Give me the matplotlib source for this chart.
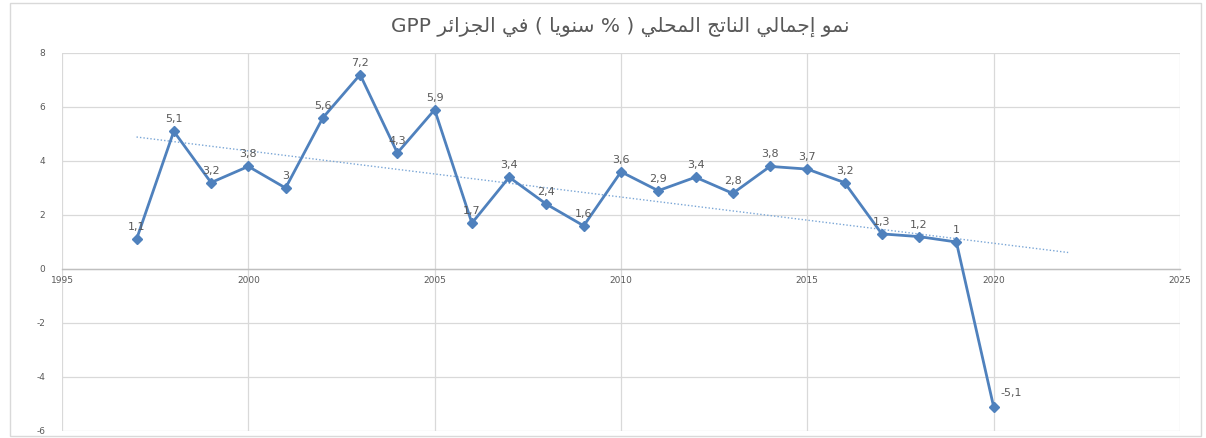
#!/usr/bin/env python3
# -*- coding: utf-8 -*-
"""Algeria GDP growth (% annual), Excel-style line chart with linear trend."""
import numpy as np
import matplotlib

matplotlib.use("Agg")
import matplotlib.pyplot as plt
from matplotlib.patches import Rectangle

years = list(range(1997, 2021))
growth = [1.1, 5.1, 3.2, 3.8, 3.0, 5.6, 7.2, 4.3, 5.9, 1.7, 3.4, 2.4,
          1.6, 3.6, 2.9, 3.4, 2.8, 3.8, 3.7, 3.2, 1.3, 1.2, 1.0, -5.1]
title_text = "نمو إجمالي الناتج المحلي ( % سنويا ) في الجزائر GPP"
x_ticks = [1995, 2000, 2005, 2010, 2015, 2020, 2025]
y_ticks = [-6, -4, -2, 0, 2, 4, 6, 8]

# matplotlib has no Arabic shaping, so pick presentation forms by hand
# (isolated, final, initial, medial)
FORMS = {
    "ا": (0xFE8D, 0xFE8E, None, None),
    "إ": (0xFE87, 0xFE88, None, None),
    "ت": (0xFE95, 0xFE96, 0xFE97, 0xFE98),
    "ج": (0xFE9D, 0xFE9E, 0xFE9F, 0xFEA0),
    "ح": (0xFEA1, 0xFEA2, 0xFEA3, 0xFEA4),
    "ر": (0xFEAD, 0xFEAE, None, None),
    "ز": (0xFEAF, 0xFEB0, None, None),
    "س": (0xFEB1, 0xFEB2, 0xFEB3, 0xFEB4),
    "ف": (0xFED1, 0xFED2, 0xFED3, 0xFED4),
    "ل": (0xFEDD, 0xFEDE, 0xFEDF, 0xFEE0),
    "م": (0xFEE1, 0xFEE2, 0xFEE3, 0xFEE4),
    "ن": (0xFEE5, 0xFEE6, 0xFEE7, 0xFEE8),
    "و": (0xFEED, 0xFEEE, None, None),
    "ي": (0xFEF1, 0xFEF2, 0xFEF3, 0xFEF4),
    "ئ": (0xFE89, 0xFE8A, 0xFE8B, 0xFE8C),
}
MIRROR = {"(": ")", ")": "("}


def shape_word(word):
    out = []
    for i, ch in enumerate(word):
        if ch not in FORMS:
            out.append(ch)
            continue
        prev = word[i - 1] if i > 0 else None
        nxt = word[i + 1] if i + 1 < len(word) else None
        joins_prev = prev in FORMS and FORMS[prev][2] is not None
        joins_next = FORMS[ch][2] is not None and nxt in FORMS
        iso, fin, ini, med = FORMS[ch]
        if joins_prev and joins_next:
            cp = med
        elif joins_prev:
            cp = fin
        elif joins_next:
            cp = ini
        else:
            cp = iso
        out.append(chr(cp))
    return "".join(reversed(out))


def rtl(text):
    tokens = []
    for tok in reversed(text.split(" ")):
        if any(c in FORMS for c in tok):
            tokens.append(shape_word(tok))
        else:
            tokens.append(MIRROR.get(tok, tok))
    return " ".join(tokens)


def fmt(v):
    s = f"{v:g}"
    return s.replace(".", ",")


plt.rcParams["axes.unicode_minus"] = False

line_col = "#4f81bd"
trend_col = "#7aa6d6"
text_col = "#595959"
grid_col = "#d9d9d9"

fig = plt.figure(figsize=(12.06, 4.38), dpi=100)
fig.patches.append(Rectangle((0.008, 0.004), 0.988, 0.99, transform=fig.transFigure,
                             fill=False, edgecolor="#d9d9d9", linewidth=1))
ax = fig.add_axes([0.0514, 0.016, 0.9270, 0.863])

ax.plot(years, growth, color=line_col, linewidth=2.0, marker="D",
        markersize=5, markerfacecolor=line_col, markeredgecolor=line_col, zorder=3)

# linear trend, extended two periods forward like Excel
coef = np.polyfit(years, growth, 1)
tx = np.array([years[0], years[-1] + 2])
ax.plot(tx, np.polyval(coef, tx), color=trend_col, linewidth=1.0,
        linestyle=(0, (1, 1.5)), zorder=2)

for x, y in zip(years, growth):
    if y < 0:
        ax.annotate(fmt(y), (x, y), xytext=(5, 6), textcoords="offset points",
                    ha="left", va="bottom", fontsize=8, color=text_col)
    else:
        ax.annotate(fmt(y), (x, y), xytext=(0, 5), textcoords="offset points",
                    ha="center", va="bottom", fontsize=8, color=text_col)

ax.set_xlim(1995, 2025)
ax.set_ylim(-6, 8)
ax.set_xticks(x_ticks)
ax.set_yticks(y_ticks)
ax.tick_params(axis="both", length=0, labelsize=6.5, labelcolor=text_col)
ax.tick_params(axis="x", pad=5)
ax.tick_params(axis="y", pad=12)
ax.grid(True, color=grid_col, linewidth=0.9)
ax.set_axisbelow(True)
for side in ("top", "right", "left"):
    ax.spines[side].set_visible(False)
ax.spines["bottom"].set_position(("data", 0))
ax.spines["bottom"].set_color("#bfbfbf")
ax.spines["bottom"].set_linewidth(1.0)

fig.text(0.514, 0.938, rtl(title_text), ha="center", va="center",
         fontsize=14.5, color=text_col, family="DejaVu Sans")

fig.savefig("out.png", dpi=100)
